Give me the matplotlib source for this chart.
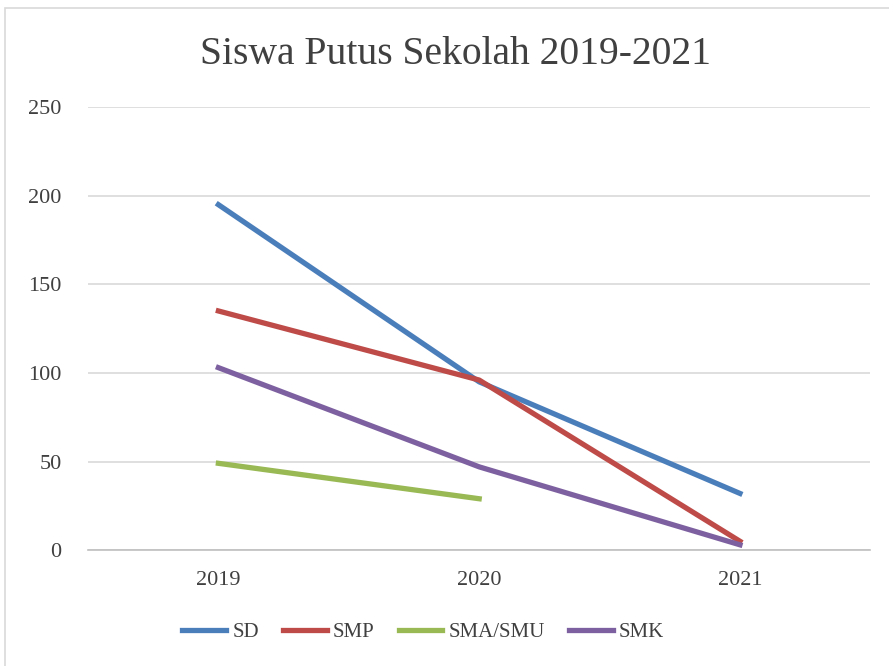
import matplotlib.pyplot as plt
import numpy as np
from matplotlib.patches import Rectangle

years = ['2019', '2020', '2021']
sd = [195, 95, 32]
smp = [135, 96, 5]
sma = [49, 29, np.nan]
smk = [103, 47, 3]

plt.rcParams['font.family'] = ['Liberation Serif', 'DejaVu Serif']

fig = plt.figure(figsize=(8.89, 6.66), dpi=100)
fig.patches.append(Rectangle((5 / 889, -0.1), 2, 1 - 8 / 666 + 0.1, transform=fig.transFigure,
                             fill=False, edgecolor='#d9d9d9', linewidth=1.2))
ax = fig.add_axes([0.099, 0.174, 0.88, 0.665])

x = np.arange(len(years))
ax.plot(x, sd, color='#4a7ebb', lw=3.8, label='SD')
ax.plot(x, smp, color='#be4b48', lw=3.8, label='SMP')
ax.plot(x, sma, color='#98b954', lw=3.8, label='SMA/SMU')
ax.plot(x, smk, color='#7d60a0', lw=3.8, label='SMK')

ax.set_xlim(-0.5, 2.5)
ax.set_ylim(0, 250)
ax.set_yticks(range(0, 251, 50))
ax.set_xticks(x)
ax.set_xticklabels(years)
ax.grid(axis='y', color='#d9d9d9', lw=1.2)
ax.set_axisbelow(True)
for s in ['top', 'right', 'left']:
    ax.spines[s].set_visible(False)
ax.spines['bottom'].set_color('#bfbfbf')
ax.spines['bottom'].set_linewidth(1.2)
ax.tick_params(axis='both', length=0, labelsize=16, colors='#404040', pad=15)
ax.tick_params(axis='y', pad=19)

fig.text(0.512, 0.918, 'Siswa Putus Sekolah 2019-2021', ha='center', va='center',
         fontsize=28.5, color='#404040')
fig.legend(loc='center', bbox_to_anchor=(0.476, 0.051), ncol=4, frameon=False,
           fontsize=15, handlelength=2.1, columnspacing=1.15, handletextpad=0.3,
           labelcolor='#404040')

fig.savefig('out.png', dpi=100)
